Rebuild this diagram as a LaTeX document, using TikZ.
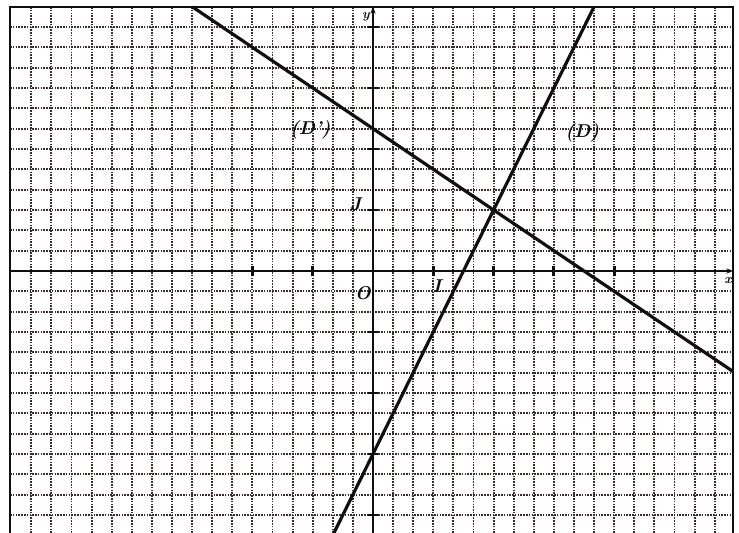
\documentclass[tikz,border=0pt]{standalone}
\usetikzlibrary{arrows.meta}
\definecolor{gridc}{RGB}{60,45,45}
\definecolor{inkc}{RGB}{15,15,15}
\begin{document}
\begin{tikzpicture}[x=1.5955cm, y=1.614cm,
  gridline/.style={gridc, line width=1.4pt, dash pattern=on 1.2pt off 0.9pt},
  frameline/.style={inkc, line width=1.8pt},
  axisline/.style={inkc, line width=1.6pt},
  curve/.style={inkc, line width=2.4pt},
  tickmark/.style={inkc, line width=2.2pt},
  lab/.style={inkc, font=\fontsize{14}{16}\selectfont\bfseries\itshape, inner sep=0pt},
  smalllab/.style={inkc, font=\fontsize{10}{11}\selectfont\bfseries\itshape, inner sep=0pt}]
\useasboundingbox[fill=white] (-6.1857,-4.2951) rectangle (6.0697,4.4426);
% grid
\foreach \k in {-17,...,17}
  \draw[gridline] (\k/3,-4.2951) -- (\k/3,4.328);
\foreach \k in {-12,...,12}
  \draw[gridline] (-6.02,\k/3) -- (5.97,\k/3);
% frame
\coordinate (BL) at (-6.02,-4.2951);
\coordinate (TL) at (-6.02,4.328);
\coordinate (TR) at (5.97,4.328);
\coordinate (BR) at (5.97,-4.2951);
\draw[frameline] (BL) -- (TL) -- (TR) -- (BR);
% axes
\coordinate (xl) at (-6.02,0);
\coordinate (xr) at (5.97,0);
\coordinate (yb) at (0,-4.2951);
\coordinate (yt) at (0,4.328);
\draw[axisline,-{Stealth[length=5pt,width=4pt]}] (xl) -- (xr);
\draw[axisline,-{Stealth[length=5pt,width=4pt]}] (yb) -- (yt);
% ticks
\foreach \t in {-2,-1,1,2,3,4}
  \draw[tickmark] (\t,-0.09) -- (\t,0.09);
\foreach \t in {-4,-3,-2,-1,1,2,3,4}
  \draw[tickmark] (-0.09,\t) -- (0.09,\t);
% lines
\coordinate (Dtop) at (3.664,4.328);
\coordinate (Dbot) at (-0.648,-4.2951);
\draw[curve] (Dbot) -- (Dtop);
\coordinate (Ptop) at (-2.992,4.328);
\coordinate (Pright) at (5.97,-1.647);
\draw[curve] (Ptop) -- (Pright);
% labels
\node[lab] (O) at (-0.17,-0.36) {O};
\node[lab] (I) at (1.06,-0.24) {I};
\node[lab] (J) at (-0.29,1.09) {J};
\node[smalllab] (ylab) at (-0.12,4.16) {y};
\node[smalllab] (xlab) at (5.89,-0.15) {x};
\node[lab] (D) at (3.47,2.27) {(D)};
\node[lab] (Dp) at (-1.04,2.31) {(D')};
\end{tikzpicture}
\end{document}
